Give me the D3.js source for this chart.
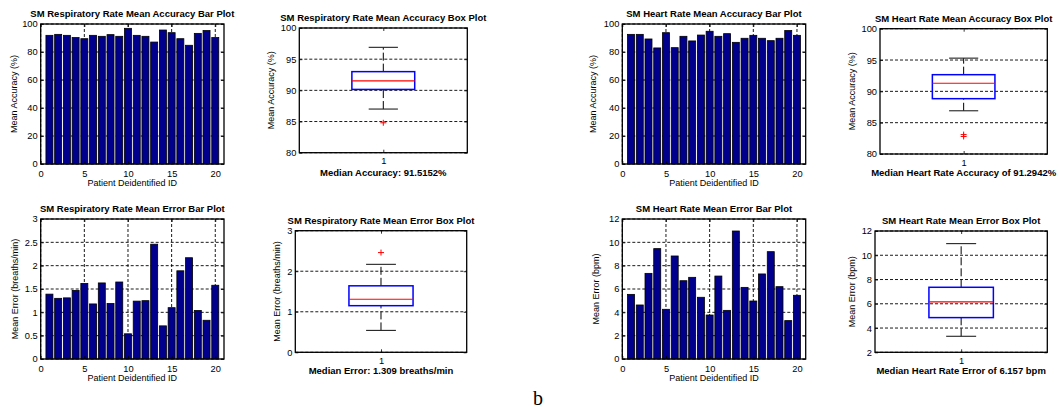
<!DOCTYPE html>
<html>
<head>
<meta charset="utf-8">
<script src="https://cdn.jsdelivr.net/npm/d3@7"></script>
<style>
  body { margin: 0; background: #fff; }
  svg { display: block; }
</style>
</head>
<body>
<script>
// ---- data ----
var patientIds = [1, 2, 3, 4, 5, 6, 7, 8, 9, 10, 11, 12, 13, 14, 15, 16, 17, 18, 19, 20];

var rrAccuracy = [91.9, 92.6, 91.9, 90.3, 89.5, 91.9, 91.2, 92.4, 91.2, 96.9,
                  91.9, 91.2, 87.1, 95.7, 93.8, 89.5, 84.8, 93.3, 95.3, 90.3];
var rrError = [1.39, 1.30, 1.31, 1.47, 1.62, 1.18, 1.63, 1.19, 1.65, 0.54,
               1.24, 1.25, 2.46, 0.71, 1.10, 1.89, 2.17, 1.04, 0.83, 1.58];
var hrAccuracy = [92.6, 92.6, 89.3, 82.9, 93.8, 83.1, 91.2, 87.9, 92.1, 94.8,
                  91.2, 93.1, 86.9, 89.8, 91.9, 89.8, 88.1, 89.8, 95.3, 91.9];
var hrError = [5.54, 4.63, 7.34, 9.46, 4.26, 8.83, 6.71, 7.00, 5.29, 3.77,
               7.11, 4.17, 10.97, 6.14, 4.97, 7.29, 9.20, 6.20, 3.29, 5.46];

// box plot stats: [lower whisker, q1, median, q3, upper whisker]
var rrAccuracyBox = [87.0, 90.15, 91.5152, 93.0, 96.9];
var rrAccuracyOutliers = [84.8];
var rrErrorBox = [0.54, 1.15, 1.309, 1.64, 2.17];
var rrErrorOutliers = [2.46];
var hrAccuracyBox = [86.9, 88.83, 91.2942, 92.66, 95.3];
var hrAccuracyOutliers = [83.1, 82.8];
var hrErrorBox = [3.32, 4.86, 6.157, 7.36, 10.96];
var hrErrorOutliers = [];

// tick labels
var barXTicks = [0, 5, 10, 15, 20];
var accuracyTicks = [0, 20, 40, 60, 80, 100];
var rrErrorTicks = [0, 0.5, 1, 1.5, 2, 2.5, 3];
var hrErrorTicks = [0, 2, 4, 6, 8, 10, 12];
var boxAccuracyTicks = [80, 85, 90, 95, 100];
var boxRrErrorTicks = [0, 1, 2, 3];
var boxHrErrorTicks = [2, 4, 6, 8, 10, 12];
var boxXTicks = [1];

var FONT = '"Liberation Sans", Arial, Helvetica, sans-serif';

var svg = d3.select("body").append("svg")
    .attr("width", 1059)
    .attr("height", 410)
    .attr("font-family", FONT);

// Helper: inward ticks on all four sides + frame
function drawAxes(g, x, y, w, h, xTicks, yTicks, opt) {
  var fmt = d3.format("~g");
  var axes = [
    g.append("g").attr("transform", "translate(0," + h + ")")
      .call(d3.axisBottom(x).tickValues(xTicks).tickSize(-3).tickPadding(opt.xPad).tickFormat(fmt)),
    g.append("g")
      .call(d3.axisTop(x).tickValues(xTicks).tickSize(-3).tickFormat("")),
    g.append("g")
      .call(d3.axisLeft(y).tickValues(yTicks).tickSize(-3).tickPadding(3).tickFormat(fmt)),
    g.append("g").attr("transform", "translate(" + w + ",0)")
      .call(d3.axisRight(y).tickValues(yTicks).tickSize(-3).tickFormat(""))
  ];
  axes.forEach(function(a) {
    a.attr("font-family", FONT).attr("font-size", 9.3);
    a.select(".domain").remove();
    a.selectAll(".tick line").attr("stroke", "#000").attr("stroke-width", 0.8);
    a.selectAll(".tick text").attr("fill", "#000");
  });
  g.append("rect")
    .attr("width", w).attr("height", h)
    .attr("fill", "none").attr("stroke", "#000").attr("stroke-width", 1.3);
}

function drawLabels(g, w, h, p) {
  g.append("text")
    .attr("x", w / 2).attr("y", -7)
    .attr("text-anchor", "middle")
    .attr("font-size", 9.5).attr("font-weight", "bold")
    .text(p.title);
  g.append("text")
    .attr("x", w / 2).attr("y", h + p.xLabelDy)
    .attr("text-anchor", "middle")
    .attr("font-size", p.boldXLabel ? 9.5 : 9)
    .attr("font-weight", p.boldXLabel ? "bold" : "normal")
    .text(p.xLabel);
  g.append("text")
    .attr("transform", "translate(" + (-p.yLabelOffset) + "," + (h / 2) + ") rotate(-90)")
    .attr("text-anchor", "middle")
    .attr("dy", "0.35em")
    .attr("font-size", 9)
    .text(p.yLabel);
}

function gridLine(sel) {
  return sel.attr("stroke", "#000").attr("stroke-width", 0.9).attr("stroke-dasharray", "3,2");
}

function barPanel(p) {
  var w = p.right - p.left, h = p.bottom - p.top;
  var g = svg.append("g").attr("transform", "translate(" + p.left + "," + p.top + ")");
  var x = d3.scaleLinear().domain([0, 21]).range([0, w]);
  var y = d3.scaleLinear().domain([p.yTicks[0], p.yTicks[p.yTicks.length - 1]]).range([h, 0]);

  // dotted grid behind the bars
  g.selectAll(".vgrid").data(barXTicks).enter().append("line")
    .attr("x1", function(d) { return x(d); }).attr("x2", function(d) { return x(d); })
    .attr("y1", 0).attr("y2", h)
    .call(gridLine);
  g.selectAll(".hgrid").data(p.yTicks).enter().append("line")
    .attr("x1", 0).attr("x2", w)
    .attr("y1", function(d) { return y(d); }).attr("y2", function(d) { return y(d); })
    .call(gridLine);

  g.selectAll(".bar").data(p.values).enter().append("rect")
    .attr("x", function(d, i) { return x(patientIds[i] - 0.4); })
    .attr("width", x(0.8) - x(0))
    .attr("y", function(d) { return y(d); })
    .attr("height", function(d) { return h - y(d); })
    .attr("fill", "#00008c")
    .attr("stroke", "#000").attr("stroke-width", 0.8);

  drawAxes(g, x, y, w, h, barXTicks, p.yTicks, { xPad: 6 });
  drawLabels(g, w, h, p);
}

function boxPanel(p) {
  var w = p.right - p.left, h = p.bottom - p.top;
  var g = svg.append("g").attr("transform", "translate(" + p.left + "," + p.top + ")");
  var x = d3.scaleLinear().domain([0.5, 1.5]).range([0, w]);
  var y = d3.scaleLinear().domain([p.yTicks[0], p.yTicks[p.yTicks.length - 1]]).range([h, 0]);
  var s = p.stats;

  g.selectAll(".hgrid").data(p.yTicks).enter().append("line")
    .attr("x1", 0).attr("x2", w)
    .attr("y1", function(d) { return y(d); }).attr("y2", function(d) { return y(d); })
    .call(gridLine);

  // whiskers (dashed) and caps
  [[s[0], s[1]], [s[3], s[4]]].forEach(function(seg) {
    g.append("line")
      .attr("x1", x(1)).attr("x2", x(1))
      .attr("y1", y(seg[0])).attr("y2", y(seg[1]))
      .attr("stroke", "#000").attr("stroke-width", 1).attr("stroke-dasharray", "8,3");
  });
  [s[0], s[4]].forEach(function(v) {
    g.append("line")
      .attr("x1", x(1 - 0.087)).attr("x2", x(1 + 0.087))
      .attr("y1", y(v)).attr("y2", y(v))
      .attr("stroke", "#222").attr("stroke-width", 1.1);
  });
  g.append("rect")
    .attr("x", x(1 - 0.187)).attr("width", x(1 + 0.187) - x(1 - 0.187))
    .attr("y", y(s[3])).attr("height", y(s[1]) - y(s[3]))
    .attr("fill", "none").attr("stroke", "#0000ff").attr("stroke-width", 1.5);
  g.append("line")
    .attr("x1", x(1 - 0.187)).attr("x2", x(1 + 0.187))
    .attr("y1", y(s[2])).attr("y2", y(s[2]))
    .attr("stroke", "#ff0000").attr("stroke-width", 1.2);

  g.selectAll(".outlier").data(p.outliers).enter().append("path")
    .attr("transform", function(d) { return "translate(" + x(1) + "," + y(d) + ")"; })
    .attr("d", "M-3,0H3M0,-3V3")
    .attr("stroke", "#ff0000").attr("stroke-width", 1);

  drawAxes(g, x, y, w, h, boxXTicks, p.yTicks, { xPad: 5 });
  drawLabels(g, w, h, p);
}

// top row
barPanel({ left: 40.7, right: 224, top: 24, bottom: 164, values: rrAccuracy, yTicks: accuracyTicks,
  title: "SM Respiratory Rate Mean Accuracy Bar Plot", xLabel: "Patient Deidentified ID",
  yLabel: "Mean Accuracy (%)", yLabelOffset: 27, xLabelDy: 22 });
boxPanel({ left: 299.3, right: 467.3, top: 28, bottom: 152.7, stats: rrAccuracyBox, outliers: rrAccuracyOutliers,
  yTicks: boxAccuracyTicks, title: "SM Respiratory Rate Mean Accuracy Box Plot",
  xLabel: "Median Accuracy: 91.5152%", boldXLabel: true, yLabel: "Mean Accuracy (%)", yLabelOffset: 28.5, xLabelDy: 23 });
barPanel({ left: 622.3, right: 805.7, top: 24, bottom: 164, values: hrAccuracy, yTicks: accuracyTicks,
  title: "SM Heart Rate Mean Accuracy Bar Plot", xLabel: "Patient Deidentified ID",
  yLabel: "Mean Accuracy (%)", yLabelOffset: 29, xLabelDy: 22 });
boxPanel({ left: 880, right: 1047.3, top: 28.7, bottom: 154, stats: hrAccuracyBox, outliers: hrAccuracyOutliers,
  yTicks: boxAccuracyTicks, title: "SM Heart Rate Mean Accuracy Box Plot",
  xLabel: "Median Heart Rate Accuracy of 91.2942%", boldXLabel: true, yLabel: "Mean Accuracy (%)", yLabelOffset: 28, xLabelDy: 22 });

// bottom row
barPanel({ left: 40.7, right: 224, top: 219, bottom: 359, values: rrError, yTicks: rrErrorTicks,
  title: "SM Respiratory Rate Mean Error Bar Plot", xLabel: "Patient Deidentified ID",
  yLabel: "Mean Error (breaths/min)", yLabelOffset: 26, xLabelDy: 22 });
boxPanel({ left: 295.3, right: 466.7, top: 230.7, bottom: 352.3, stats: rrErrorBox, outliers: rrErrorOutliers,
  yTicks: boxRrErrorTicks, title: "SM Respiratory Rate Mean Error Box Plot",
  xLabel: "Median Error: 1.309 breaths/min", boldXLabel: true, yLabel: "Mean Error (breaths/min)", yLabelOffset: 18, xLabelDy: 22 });
barPanel({ left: 622.3, right: 805.7, top: 219, bottom: 359, values: hrError, yTicks: hrErrorTicks,
  title: "SM Heart Rate Mean Error Bar Plot", xLabel: "Patient Deidentified ID",
  yLabel: "Mean Error (bpm)", yLabelOffset: 26, xLabelDy: 22 });
boxPanel({ left: 875, right: 1047.3, top: 231, bottom: 352.3, stats: hrErrorBox, outliers: hrErrorOutliers,
  yTicks: boxHrErrorTicks, title: "SM Heart Rate Mean Error Box Plot",
  xLabel: "Median Heart Rate Error of 6.157 bpm", boldXLabel: true, yLabel: "Mean Error (bpm)", yLabelOffset: 23, xLabelDy: 22 });

// figure letter
svg.append("text")
  .attr("x", 538).attr("y", 405)
  .attr("text-anchor", "middle")
  .attr("font-family", '"Liberation Serif", "Times New Roman", serif')
  .attr("font-size", 20)
  .text("b");
</script>
</body>
</html>
